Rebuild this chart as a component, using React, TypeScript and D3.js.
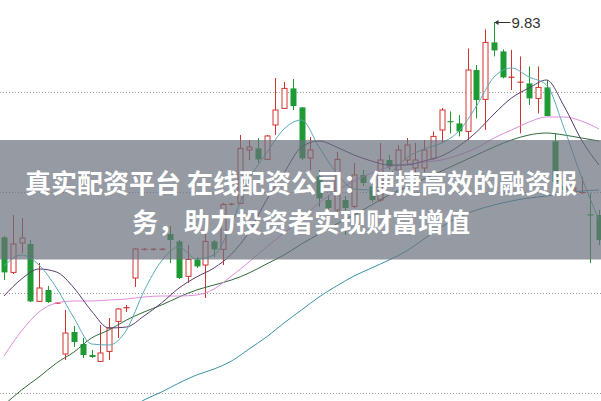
import React from "react";
import * as d3 from "d3";

// ---- candle data (price) ----
const opens = [8.753, 8.578, 8.725, 8.72, 8.433, 8.49, 8.423, 8.17, 8.28, 8.22, 8.165, 8.133, 8.183, 8.333, 8.40, 8.55, 8.692, 8.692, 8.692, 8.77, 8.733, 8.558, 8.643, 8.615, 8.733, 8.693, 8.918, 8.923, 9.19, 9.198, 9.143, 9.315, 9.398, 9.498, 9.403, 9.15, 9.058, 8.94, 8.89, 8.94, 8.908, 9.065, 9.008, 8.94, 9.14, 9.09, 9.14, 9.10, 9.10, 9.148, 9.29, 9.335, 9.323, 9.283, 9.59, 9.443, 9.728, 9.683, 9.553, 9.525, 9.523, 9.448, 9.503, 9.233, 9.01, 8.99, 8.975, 8.868, 8.865];
const highs = [8.76, 8.865, 8.85, 8.74, 8.625, 8.51, 8.43, 8.39, 8.31, 8.25, 8.19, 8.315, 8.35, 8.40, 8.415, 8.70, 8.70, 8.70, 8.70, 8.81, 8.74, 8.715, 8.655, 8.775, 8.74, 8.925, 8.925, 9.265, 9.24, 9.25, 9.265, 9.55, 9.53, 9.545, 9.405, 9.255, 9.09, 8.965, 9.18, 8.96, 9.125, 9.09, 9.03, 9.225, 9.165, 9.215, 9.25, 9.225, 9.24, 9.283, 9.40, 9.383, 9.365, 9.698, 9.615, 9.793, 9.83, 9.693, 9.69, 9.658, 9.608, 9.608, 9.54, 9.273, 9.03, 9.02, 9.055, 8.975, 8.89];
const lows = [8.54, 8.57, 8.675, 8.43, 8.43, 8.425, 8.42, 8.14, 8.205, 8.15, 8.15, 8.13, 8.14, 8.25, 8.38, 8.505, 8.688, 8.688, 8.688, 8.625, 8.545, 8.525, 8.60, 8.45, 8.655, 8.615, 8.913, 8.92, 9.14, 9.125, 9.14, 9.265, 9.395, 9.39, 9.14, 9.09, 8.905, 8.88, 8.88, 8.765, 8.90, 9.01, 8.93, 8.93, 9.09, 9.05, 9.115, 9.03, 9.08, 9.14, 9.225, 9.273, 9.258, 9.24, 9.348, 9.29, 9.658, 9.548, 9.49, 9.273, 9.415, 9.373, 9.358, 9.02, 8.975, 8.97, 8.97, 8.625, 8.715];
const closes = [8.578, 8.72, 8.75, 8.433, 8.50, 8.43, 8.425, 8.275, 8.23, 8.165, 8.155, 8.175, 8.30, 8.395, 8.403, 8.695, 8.695, 8.695, 8.695, 8.74, 8.55, 8.643, 8.608, 8.733, 8.693, 8.918, 8.92, 9.198, 9.205, 9.143, 9.26, 9.39, 9.498, 9.41, 9.148, 9.19, 8.948, 8.90, 9.143, 8.90, 9.065, 9.025, 8.94, 9.14, 9.108, 9.19, 9.215, 9.14, 9.19, 9.258, 9.39, 9.328, 9.283, 9.59, 9.44, 9.728, 9.688, 9.553, 9.555, 9.533, 9.448, 9.503, 9.36, 9.03, 8.99, 9.00, 8.98, 8.863, 8.74];

// ---- moving averages, read at every second candle ----
const maIndex = [0, 2, 4, 6, 8, 10, 12, 14, 16, 18, 20, 22, 24, 26, 28, 30, 32, 34, 36, 38, 40, 42, 44, 46, 48, 50, 52, 54, 56, 58, 60, 62, 64, 66, 68];
const ma5 = [8.61, 8.665, 8.615, 8.50, 8.35, 8.22, 8.215, 8.29, 8.485, 8.635, 8.705, 8.645, 8.665, 8.82, 9.04, 9.175, 9.295, 9.34, 9.205, 9.075, 8.995, 8.99, 9.065, 9.15, 9.195, 9.225, 9.285, 9.41, 9.555, 9.60, 9.555, 9.515, 9.30, 9.055, 8.84];
const ma10 = [8.46, 8.545, 8.595, 8.58, 8.50, 8.385, 8.30, 8.305, 8.36, 8.425, 8.50, 8.555, 8.60, 8.67, 8.78, 8.94, 9.075, 9.205, 9.235, 9.205, 9.165, 9.135, 9.115, 9.115, 9.135, 9.16, 9.21, 9.28, 9.37, 9.45, 9.50, 9.54, 9.41, 9.24, 9.115];
const ma20 = [8.16, 8.285, 8.38, 8.425, 8.435, 8.435, 8.44, 8.445, 8.455, 8.46, 8.46, 8.465, 8.495, 8.56, 8.63, 8.705, 8.775, 8.845, 8.925, 8.985, 9.035, 9.075, 9.105, 9.12, 9.13, 9.14, 9.165, 9.20, 9.25, 9.29, 9.33, 9.355, 9.355, 9.335, 9.295];
const ma30 = [7.915, 7.99, 8.055, 8.125, 8.18, 8.25, 8.29, 8.34, 8.38, 8.415, 8.455, 8.49, 8.515, 8.54, 8.575, 8.62, 8.665, 8.72, 8.77, 8.82, 8.865, 8.915, 8.965, 9.005, 9.045, 9.085, 9.125, 9.165, 9.205, 9.24, 9.265, 9.275, 9.265, 9.25, 9.235];
const ma60Index = [14, 16, 18, 20, 22, 24, 26, 28, 30, 32, 34, 36, 38, 40, 42, 44, 46, 48, 50, 52, 54, 56, 58, 60, 62, 64, 66, 68];
const ma60 = [7.89, 7.94, 7.98, 8.025, 8.065, 8.095, 8.135, 8.195, 8.255, 8.325, 8.39, 8.455, 8.51, 8.56, 8.60, 8.64, 8.685, 8.745, 8.805, 8.855, 8.89, 8.915, 8.935, 8.95, 8.96, 8.975, 8.985, 8.99];

const gridPrices = [9.48, 8.978, 8.475, 7.973];
const titleLines = ["真实配资平台 在线配资公司：便捷高效的融资服", "务，助力投资者实现财富增值"];
const peakLabel = "9.83";

const W = 601;
const H = 401;
const RED = "#d2332f";
const GREEN = "#1e9a34";

export default function App() {
  const x = d3.scaleLinear().domain([0, closes.length - 1]).range([4, 599]);
  const y = d3.scaleLinear().domain([9.94 - H / 200, 9.94]).range([H, 0]);

  const line = d3
    .line<[number, number]>()
    .x((d) => x(d[0]))
    .y((d) => y(d[1]))
    .curve(d3.curveMonotoneX);

  const maLines = [
    { idx: maIndex, vals: ma60, color: "#3a93a6" },
    { idx: maIndex, vals: ma30, color: "#2f6a3c" },
    { idx: maIndex, vals: ma20, color: "#e08ce0" },
    { idx: maIndex, vals: ma10, color: "#5a3a6e" },
    { idx: maIndex, vals: ma5, color: "#5aaab8" },
  ];
  maLines[0].idx = ma60Index;

  const peakIdx = d3.maxIndex(highs);
  const px = Math.round(x(peakIdx)) + 0.5;
  const py = Math.round(y(highs[peakIdx])) + 0.5;

  return (
    <svg
      width={W}
      height={H}
      style={{ position: "fixed", left: 0, top: 0, display: "block", background: "#fff" }}
    >
      {gridPrices.map((p, i) => (
        <line
          key={"g" + i}
          x1={0}
          x2={W}
          y1={Math.round(y(p)) + 0.5}
          y2={Math.round(y(p)) + 0.5}
          stroke="#9a9a9a"
          strokeDasharray="1 2"
        />
      ))}
      {closes.map((c, i) => {
        const o = opens[i];
        const up = c >= o;
        const col = up ? RED : GREEN;
        const cx = Math.round(x(i)) + 0.5;
        const yTop = y(Math.max(o, c));
        const yBot = y(Math.min(o, c));
        const yH = y(highs[i]);
        const yL = y(lows[i]);
        const doji = yBot - yTop < 1.6;
        return (
          <g key={"c" + i}>
            <line x1={cx} x2={cx} y1={yH} y2={yL} stroke={col} strokeWidth={1} />
            {doji ? (
              <line x1={cx - 3} x2={cx + 3} y1={(yTop + yBot) / 2} y2={(yTop + yBot) / 2} stroke={col} strokeWidth={1.2} />
            ) : up ? (
              <rect x={cx - 2.5} y={yTop} width={5} height={yBot - yTop} fill="#fff" stroke={col} strokeWidth={1} />
            ) : (
              <rect x={cx - 3} y={yTop} width={6} height={yBot - yTop} fill={col} />
            )}
          </g>
        );
      })}
      {maLines.map((m, k) => (
        <path
          key={"m" + k}
          d={line(m.idx.map((ix, j) => [ix, m.vals[j]] as [number, number])) || ""}
          fill="none"
          stroke={m.color}
          strokeWidth={1}
        />
      ))}
      <g>
        <line x1={px + 1} x2={px + 16} y1={py} y2={py} stroke="#333" strokeWidth={1} />
        <path d={`M${px},${py} l4,-2.5 l0,5 z`} fill="#333" />
        <text
          x={px + 17}
          y={py + 5}
          fontSize={15}
          fontFamily="Liberation Sans, Arial, sans-serif"
          fill="#333"
        >
          {peakLabel}
        </text>
      </g>
      <rect x={0} y={140} width={W} height={119.5} fill="rgb(105,111,122)" fillOpacity={0.7} />
      {titleLines.map((t, i) => (
        <text
          key={"t" + i}
          x={301}
          y={181 + i * 39.5}
          textAnchor="middle"
          dominantBaseline="central"
          fontSize={26}
          fontWeight={700}
          fontFamily="'Noto Sans CJK SC', 'Noto Sans', sans-serif"
          fill="#fff"
        >
          {t}
        </text>
      ))}
    </svg>
  );
}
